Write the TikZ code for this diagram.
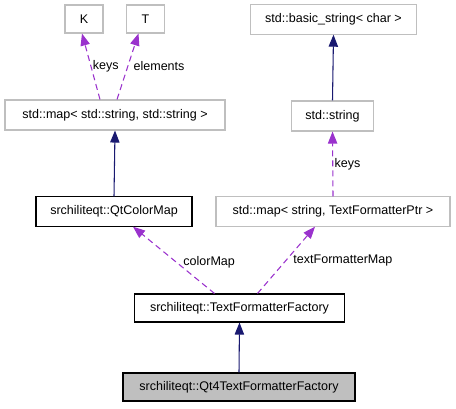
\documentclass[tikz,border=0pt]{standalone}
\usepackage{fontspec}
\setmainfont{Liberation Sans}
\usetikzlibrary{arrows.meta,calc}
\definecolor{edgeblue}{HTML}{191970}
\definecolor{edgepurple}{HTML}{9A32CD}
\definecolor{boxgray}{HTML}{BFBFBF}
\tikzset{
  cls/.style={draw=boxgray,line width=0.8pt,inner sep=0pt,align=center},
  doccls/.style={draw=black,line width=0.8pt,inner sep=0pt,align=center},
  maincls/.style={draw=black,fill=boxgray,line width=0.8pt,inner sep=0pt,align=center},
  inherit/.style={edgeblue,line width=0.8pt,-{Triangle[length=9pt,width=7pt]}},
  usage/.style={edgepurple,line width=0.8pt,dash pattern=on 4.5pt off 3pt,-{Triangle[length=9pt,width=7pt]}},
  lbl/.style={text=black,inner sep=1pt}
}
\begin{document}
\begin{tikzpicture}[x=0.75pt,y=-0.75pt,every node/.style={font=\fontsize{9.4}{11}\selectfont}]
  \useasboundingbox (0,0) rectangle (456,408);
  % template parameters and base classes
  \node[cls,minimum width=28.5pt,minimum height=21pt] (k) at (84,19) {K};
  \node[cls,minimum width=29pt,minimum height=21pt] (t) at (145.5,19) {T};
  \node[cls,minimum width=125pt,minimum height=22pt] (bstr) at (333.5,19.5) {std::basic\_string< char >};
  \node[cls,minimum width=165pt,minimum height=22.5pt] (smap) at (115,115) {std::map< std::string, std::string >};
  \node[cls,minimum width=61pt,minimum height=22.5pt] (str) at (332.5,116) {std::string};
  \node[doccls,minimum width=117pt,minimum height=22pt] (cmap) at (114,211.5) {srchiliteqt::QtColorMap};
  \node[cls,minimum width=175.5pt,minimum height=22pt] (fmap) at (333,211.5) {std::map< string, TextFormatterPtr >};
  \node[doccls,minimum width=158pt,minimum height=21pt] (tff) at (239.5,308) {srchiliteqt::TextFormatterFactory};
  \node[maincls,minimum width=174pt,minimum height=21pt] (qtff) at (239,387) {srchiliteqt::Qt4TextFormatterFactory};
  % edges
  \draw[usage] ($(smap.north)+(-15,0)$) -- ($(k.south)+(-2,0)$) node[lbl,pos=0.5,right] {keys};
  \draw[usage] ($(smap.north)+(2,0)$) -- ($(t.south)+(-7,0)$) node[lbl,pos=0.5,right=3pt] {elements};
  \draw[inherit] (cmap.north) -- (smap.south);
  \draw[inherit] (str.north) -- (bstr.south);
  \draw[usage] (fmap.north) -- (str.south) node[lbl,pos=0.5,right] {keys};
  \draw[usage] ($(tff.north)+(-25,0)$) -- ($(cmap.south)+(19,0)$) node[lbl,pos=0.47,right=4pt] {colorMap};
  \draw[usage] ($(tff.north)+(18,0)$) -- ($(fmap.south)+(-18,0)$) node[lbl,pos=0.5,right=4pt] {textFormatterMap};
  \draw[inherit] (qtff.north) -- (tff.south);
\end{tikzpicture}
\end{document}
